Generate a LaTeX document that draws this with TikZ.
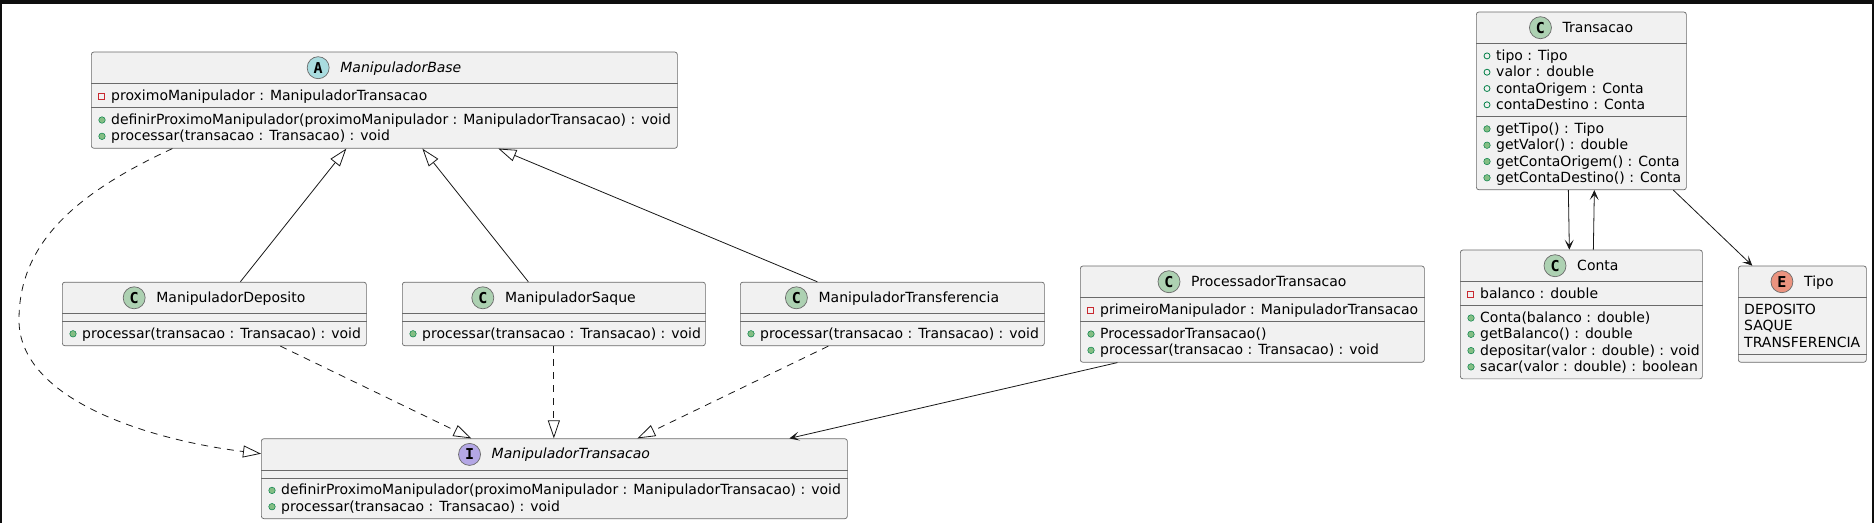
\documentclass[tikz,border=0pt]{standalone}
\usepackage{fontspec}
\setmainfont{DejaVu Sans}
\newfontfamily\spotfam{DejaVu Sans Mono}
\usepackage{tikz}
\usetikzlibrary{arrows.meta, positioning, calc}
\definecolor{UmlFill}{HTML}{F1F1F1}
\definecolor{UmlBorder}{HTML}{6A6A6A}
\definecolor{UmlLine}{HTML}{181818}
\definecolor{SpotC}{HTML}{ADD1B2}
\definecolor{SpotA}{HTML}{A9DCDF}
\definecolor{SpotI}{HTML}{B4A7E5}
\definecolor{SpotE}{HTML}{EB937F}
\definecolor{PrivRed}{HTML}{C82930}
\definecolor{PubGreen}{HTML}{038048}
\definecolor{PubFill}{HTML}{84BE84}
\definecolor{FrameBlack}{HTML}{0E0E0E}
\tikzset{
  % Box styles
  classbox/.style={rectangle, rounded corners=2.5pt, draw=UmlBorder, line width=0.7pt, fill=UmlFill, anchor=north west, inner sep=0pt},
  divider/.style={draw=UmlBorder, line width=0.7pt},
  classname/.style={inner sep=0pt, anchor=base, font=\fontsize{14}{16.3}\selectfont},
  member/.style={inner sep=0pt, anchor=base west, font=\fontsize{14}{16.3}\selectfont},
  spot/.style={circle, draw=UmlBorder, line width=0.7pt, minimum size=22pt, inner sep=0pt, font=\spotfam\bfseries\fontsize{15}{15}\selectfont},
  % Visibility marks
  privmark/.style={rectangle, draw=PrivRed, line width=0.8pt, minimum size=6pt, inner sep=0pt},
  pubmethod/.style={circle, draw=PubGreen, line width=0.5pt, fill=PubFill, minimum size=6.5pt, inner sep=0pt},
  pubfield/.style={circle, draw=PubGreen, line width=0.8pt, minimum size=6pt, inner sep=0pt},
  % Arrow styles
  extends/.style={-{Triangle[open, length=18pt, width=12pt]}, line width=0.8pt, UmlLine},
  implements/.style={extends, dash pattern=on 7pt off 6pt},
  assoc/.style={-{Stealth[length=10pt, width=9pt, inset=5pt]}, line width=0.8pt, UmlLine}
}
\begin{document}
\begin{tikzpicture}[x=1pt, y=-1pt]
  \useasboundingbox (0,0) rectangle (1874,523);
  \fill[white] (0,0) rectangle (1874,523);
  \fill[FrameBlack] (0,0) rectangle (1874,4);
  \fill[FrameBlack] (0,0) rectangle (2,523);
  \fill[FrameBlack] (1872,0) rectangle (1874,523);

  % ManipuladorBase
  \node[classbox, minimum width=586pt, minimum height=96.2pt] (base) at (91,51.7) {};
  \node[classname] (baseT) at ($(base.north)+(16.5,20.5)$) {\itshape ManipuladorBase};
  \node[spot, fill=SpotA] (baseS) at ($(baseT.base west)+(-22,-4.5)$) {A};
  \draw[divider] ($(base.north west)+(0,31.7)$) -- ($(base.north east)+(0,31.7)$);
  \draw[divider] ($(base.north west)+(0,55.8)$) -- ($(base.north east)+(0,55.8)$);
  \node[privmark] (baseP) at ($(base.north west)+(10,44.2)$) {};
  \node[member] (baseA) at ($(base.north west)+(20,48.7)$) {proximoManipulador : ManipuladorTransacao};
  \foreach \txt [count=\i from 0] in {definirProximoManipulador(proximoManipulador : ManipuladorTransacao) : void, processar(transacao : Transacao) : void} {
    \node[pubmethod] (baseV\i) at ($(base.north west)+(11,68.3+16.3*\i)$) {};
    \node[member] (baseM\i) at ($(base.north west)+(20,72.8+16.3*\i)$) {\txt};
  }

  % Handlers
  \foreach \name/\label/\x/\w in {dep/ManipuladorDeposito/62/304, saq/ManipuladorSaque/402/303, trf/ManipuladorTransferencia/740/304} {
    \node[classbox, minimum width=\w pt, minimum height=63.6pt] (\name) at (\x,281.8) {};
    \node[classname] (\name T) at ($(\name.north)+(16.5,20.5)$) {\label};
    \node[spot, fill=SpotC] (\name S) at ($(\name T.base west)+(-22,-4.5)$) {C};
    \draw[divider] ($(\name.north west)+(0,31.7)$) -- ($(\name.north east)+(0,31.7)$);
    \draw[divider] ($(\name.north west)+(0,39.5)$) -- ($(\name.north east)+(0,39.5)$);
    \node[pubmethod] (\name V) at ($(\name.north west)+(11,52)$) {};
    \node[member] (\name M) at ($(\name.north west)+(20,56.5)$) {processar(transacao : Transacao) : void};
  }

  % ManipuladorTransacao
  \node[classbox, minimum width=586pt, minimum height=79.9pt] (mt) at (261,438.4) {};
  \node[classname] (mtT) at ($(mt.north)+(16.5,20.5)$) {\itshape ManipuladorTransacao};
  \node[spot, fill=SpotI] (mtS) at ($(mtT.base west)+(-22,-4.5)$) {I};
  \draw[divider] ($(mt.north west)+(0,31.7)$) -- ($(mt.north east)+(0,31.7)$);
  \draw[divider] ($(mt.north west)+(0,39.5)$) -- ($(mt.north east)+(0,39.5)$);
  \foreach \txt [count=\i from 0] in {definirProximoManipulador(proximoManipulador : ManipuladorTransacao) : void, processar(transacao : Transacao) : void} {
    \node[pubmethod] (mtV\i) at ($(mt.north west)+(11,52+16.3*\i)$) {};
    \node[member] (mtM\i) at ($(mt.north west)+(20,56.5+16.3*\i)$) {\txt};
  }

  % ProcessadorTransacao
  \node[classbox, minimum width=344pt, minimum height=96.2pt] (proc) at (1080,265.7) {};
  \node[classname] (procT) at ($(proc.north)+(16.5,20.5)$) {ProcessadorTransacao};
  \node[spot, fill=SpotC] (procS) at ($(procT.base west)+(-22,-4.5)$) {C};
  \draw[divider] ($(proc.north west)+(0,31.7)$) -- ($(proc.north east)+(0,31.7)$);
  \draw[divider] ($(proc.north west)+(0,55.8)$) -- ($(proc.north east)+(0,55.8)$);
  \node[privmark] (procP) at ($(proc.north west)+(10,44.2)$) {};
  \node[member] (procA) at ($(proc.north west)+(20,48.7)$) {primeiroManipulador : ManipuladorTransacao};
  \foreach \txt [count=\i from 0] in {ProcessadorTransacao(), processar(transacao : Transacao) : void} {
    \node[pubmethod] (procV\i) at ($(proc.north west)+(11,68.3+16.3*\i)$) {};
    \node[member] (procM\i) at ($(proc.north west)+(20,72.8+16.3*\i)$) {\txt};
  }

  % Transacao
  \node[classbox, minimum width=210pt, minimum height=177.7pt] (tr) at (1476,11.7) {};
  \node[classname] (trT) at ($(tr.north)+(16.5,20.5)$) {Transacao};
  \node[spot, fill=SpotC] (trS) at ($(trT.base west)+(-22,-4.5)$) {C};
  \draw[divider] ($(tr.north west)+(0,31.7)$) -- ($(tr.north east)+(0,31.7)$);
  \draw[divider] ($(tr.north west)+(0,104.7)$) -- ($(tr.north east)+(0,104.7)$);
  \foreach \txt [count=\i from 0] in {tipo : Tipo, valor : double, contaOrigem : Conta, contaDestino : Conta} {
    \node[pubfield] (trF\i) at ($(tr.north west)+(11,44.2+16.3*\i)$) {};
    \node[member] (trA\i) at ($(tr.north west)+(20,48.7+16.3*\i)$) {\txt};
  }
  \foreach \txt [count=\i from 0] in {getTipo() : Tipo, getValor() : double, getContaOrigem() : Conta, getContaDestino() : Conta} {
    \node[pubmethod] (trV\i) at ($(tr.north west)+(11,117.2+16.3*\i)$) {};
    \node[member] (trM\i) at ($(tr.north west)+(20,121.7+16.3*\i)$) {\txt};
  }

  % Conta
  \node[classbox, minimum width=242pt, minimum height=128.8pt] (ct) at (1460,249.7) {};
  \node[classname] (ctT) at ($(ct.north)+(16.5,20.5)$) {Conta};
  \node[spot, fill=SpotC] (ctS) at ($(ctT.base west)+(-22,-4.5)$) {C};
  \draw[divider] ($(ct.north west)+(0,31.7)$) -- ($(ct.north east)+(0,31.7)$);
  \draw[divider] ($(ct.north west)+(0,55.8)$) -- ($(ct.north east)+(0,55.8)$);
  \node[privmark] (ctP) at ($(ct.north west)+(10,44.2)$) {};
  \node[member] (ctA) at ($(ct.north west)+(20,48.7)$) {balanco : double};
  \foreach \txt [count=\i from 0] in {Conta(balanco : double), getBalanco() : double, depositar(valor : double) : void, sacar(valor : double) : boolean} {
    \node[pubmethod] (ctV\i) at ($(ct.north west)+(11,68.3+16.3*\i)$) {};
    \node[member] (ctM\i) at ($(ct.north west)+(20,72.8+16.3*\i)$) {\txt};
  }

  % Tipo
  \node[classbox, minimum width=128pt, minimum height=96.2pt] (tp) at (1738,265.7) {};
  \node[classname] (tpT) at ($(tp.north)+(16.5,20.5)$) {Tipo};
  \node[spot, fill=SpotE] (tpS) at ($(tpT.base west)+(-22,-4.5)$) {E};
  \draw[divider] ($(tp.north west)+(0,31.7)$) -- ($(tp.north east)+(0,31.7)$);
  \draw[divider] ($(tp.north west)+(0,88.4)$) -- ($(tp.north east)+(0,88.4)$);
  \foreach \txt [count=\i from 0] in {DEPOSITO, SAQUE, TRANSFERENCIA} {
    \node[member] (tpE\i) at ($(tp.north west)+(6,48.7+16.3*\i)$) {\txt};
  }

  % Inheritance
  \draw[extends] ([xshift=26pt]dep.north) -- ([xshift=-38pt]base.south);
  \draw[extends] ([xshift=-25.5pt]saq.north) -- ([xshift=38pt]base.south);
  \draw[extends] ([xshift=-75pt]trf.north) -- ([xshift=114pt]base.south);

  % Realization
  \coordinate (bendL) at (19,320);
  \draw[implements] ([xshift=-212pt]base.south) .. controls (65,198) and (19,250) .. (bendL) .. controls (19,400) and (150,440) .. ([yshift=25pt]mt.west);
  \draw[implements] ([xshift=66pt]dep.south) -- ([xshift=-83pt]mt.north);
  \draw[implements] (saq.south) -- (saq.south |- mt.north);
  \draw[implements] ([xshift=-64pt]trf.south) -- ([xshift=83pt]mt.north);

  % Associations
  \draw[assoc] ([xshift=-135pt]proc.south) -- ([xshift=235pt]mt.north);
  \draw[assoc] ([xshift=-13pt]tr.south) -- ([xshift=-12pt]ct.north);
  \draw[assoc] ([xshift=12pt]ct.north) -- ([xshift=13pt]tr.south);
  \draw[assoc] ([xshift=92pt]tr.south) -- ([xshift=-50pt]tp.north);
\end{tikzpicture}
\end{document}
